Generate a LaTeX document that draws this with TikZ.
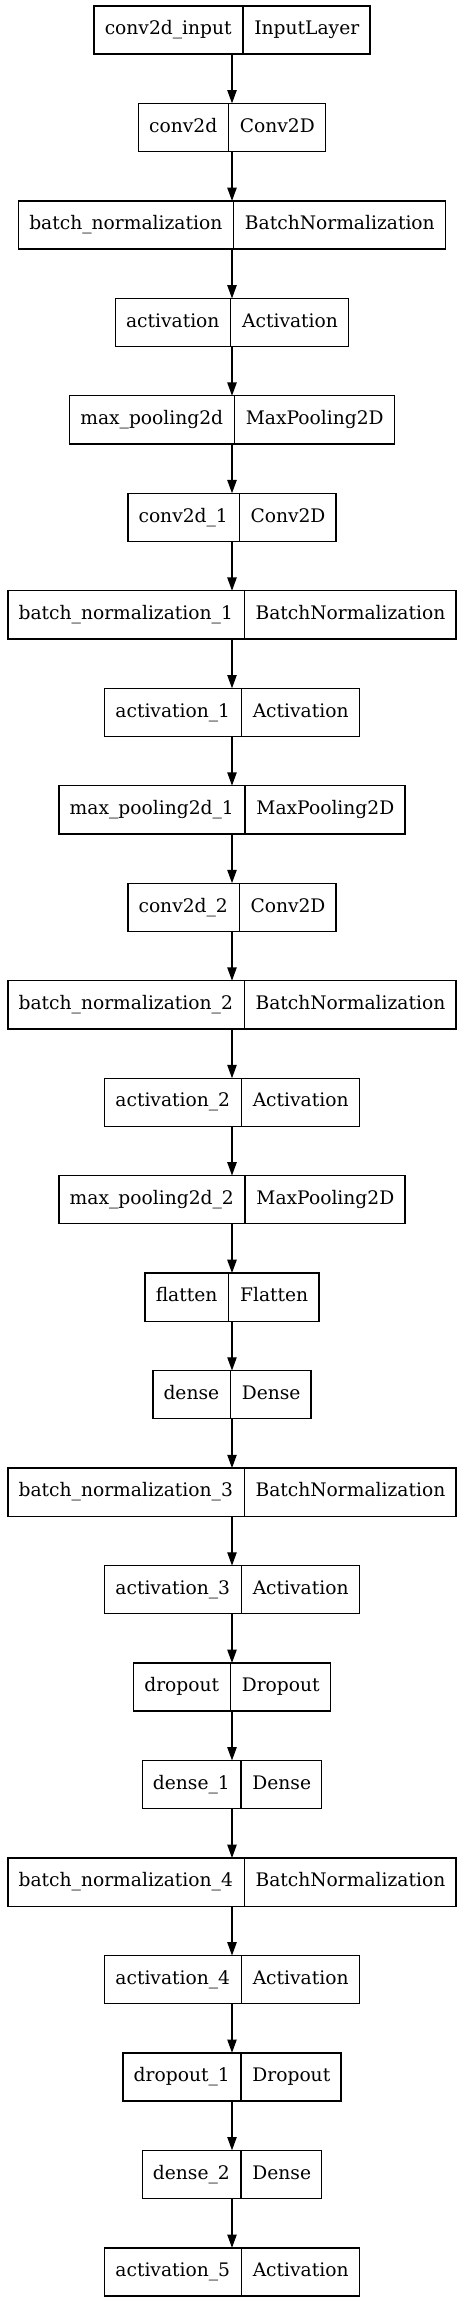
\documentclass[tikz,border=0pt]{standalone}
\usepackage{fontspec}
\setmainfont{DejaVu Serif}
\usetikzlibrary{positioning,shapes.multipart,arrows.meta}

\newcommand\pstrut{\vrule height 10.5pt depth 3.5pt width 0pt}
\newcommand\layertext[2]{#1\pstrut\nodepart{two}#2\pstrut}

\tikzset{
  layer/.style={draw,line width=1pt,rectangle split,rectangle split horizontal,
    rectangle split parts=2,rectangle split part align=base,
    inner xsep=8pt,inner ysep=11pt,outer sep=0pt,
    font=\fontsize{14}{17}\selectfont},
  flow/.style={line width=1pt,-{Triangle[length=10pt,width=7pt]}}
}

\begin{document}
\begin{tikzpicture}[node distance=37pt]
    \useasboundingbox (0,0) rectangle (348pt,-1724.25pt);
    \node[layer] (input) at (174pt,-22.5pt) {\layertext{conv2d\_input}{InputLayer}};
    \node[layer,below=of input] (conv) {\layertext{conv2d}{Conv2D}};
    \node[layer,below=of conv] (bn) {\layertext{batch\_normalization}{BatchNormalization}};
    \node[layer,below=of bn] (act) {\layertext{activation}{Activation}};
    \node[layer,below=of act] (pool) {\layertext{max\_pooling2d}{MaxPooling2D}};
    \node[layer,below=of pool] (conva) {\layertext{conv2d\_1}{Conv2D}};
    \node[layer,below=of conva] (bna) {\layertext{batch\_normalization\_1}{BatchNormalization}};
    \node[layer,below=of bna] (acta) {\layertext{activation\_1}{Activation}};
    \node[layer,below=of acta] (poola) {\layertext{max\_pooling2d\_1}{MaxPooling2D}};
    \node[layer,below=of poola] (convb) {\layertext{conv2d\_2}{Conv2D}};
    \node[layer,below=of convb] (bnb) {\layertext{batch\_normalization\_2}{BatchNormalization}};
    \node[layer,below=of bnb] (actb) {\layertext{activation\_2}{Activation}};
    \node[layer,below=of actb] (poolb) {\layertext{max\_pooling2d\_2}{MaxPooling2D}};
    \node[layer,below=of poolb] (flat) {\layertext{flatten}{Flatten}};
    \node[layer,below=of flat] (dense) {\layertext{dense}{Dense}};
    \node[layer,below=of dense] (bnc) {\layertext{batch\_normalization\_3}{BatchNormalization}};
    \node[layer,below=of bnc] (actc) {\layertext{activation\_3}{Activation}};
    \node[layer,below=of actc] (drop) {\layertext{dropout}{Dropout}};
    \node[layer,below=of drop] (densea) {\layertext{dense\_1}{Dense}};
    \node[layer,below=of densea] (bnd) {\layertext{batch\_normalization\_4}{BatchNormalization}};
    \node[layer,below=of bnd] (actd) {\layertext{activation\_4}{Activation}};
    \node[layer,below=of actd] (dropa) {\layertext{dropout\_1}{Dropout}};
    \node[layer,below=of dropa] (denseb) {\layertext{dense\_2}{Dense}};
    \node[layer,below=of denseb] (acte) {\layertext{activation\_5}{Activation}};
    \draw[flow] (input) -- (conv);
    \draw[flow] (conv) -- (bn);
    \draw[flow] (bn) -- (act);
    \draw[flow] (act) -- (pool);
    \draw[flow] (pool) -- (conva);
    \draw[flow] (conva) -- (bna);
    \draw[flow] (bna) -- (acta);
    \draw[flow] (acta) -- (poola);
    \draw[flow] (poola) -- (convb);
    \draw[flow] (convb) -- (bnb);
    \draw[flow] (bnb) -- (actb);
    \draw[flow] (actb) -- (poolb);
    \draw[flow] (poolb) -- (flat);
    \draw[flow] (flat) -- (dense);
    \draw[flow] (dense) -- (bnc);
    \draw[flow] (bnc) -- (actc);
    \draw[flow] (actc) -- (drop);
    \draw[flow] (drop) -- (densea);
    \draw[flow] (densea) -- (bnd);
    \draw[flow] (bnd) -- (actd);
    \draw[flow] (actd) -- (dropa);
    \draw[flow] (dropa) -- (denseb);
    \draw[flow] (denseb) -- (acte);
\end{tikzpicture}
\end{document}
